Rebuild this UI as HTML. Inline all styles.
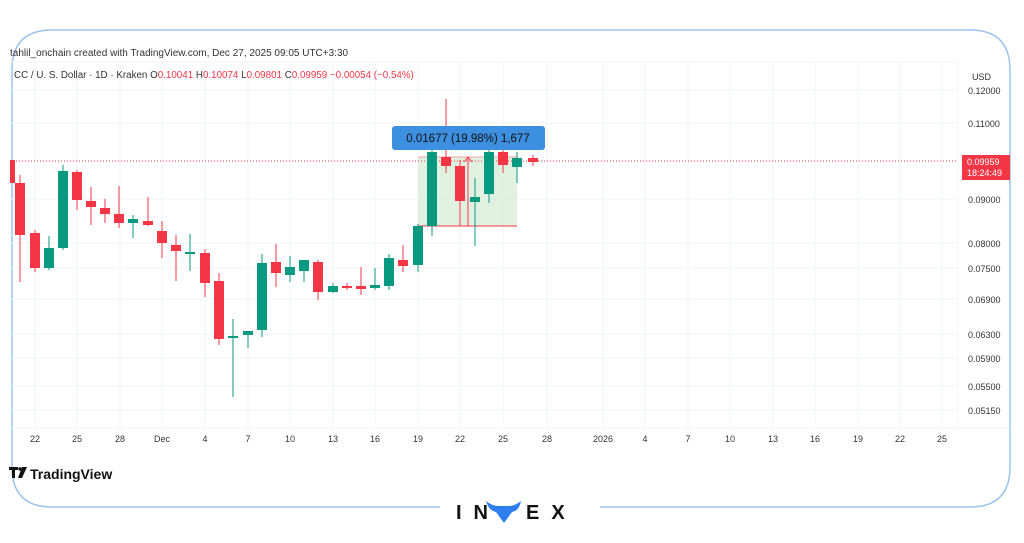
<!DOCTYPE html><html><head><style>
body{margin:0;background:#fff;width:1024px;height:538px;overflow:hidden;font-family:"Liberation Sans",sans-serif}
</style></head><body>
<svg width="1024" height="538" xmlns="http://www.w3.org/2000/svg" font-family="Liberation Sans, sans-serif">
<defs><clipPath id="cp"><rect x="10" y="62" width="948" height="366"/></clipPath></defs>
<rect width="1024" height="538" fill="#fff"/>
<path d="M440 507 H52 Q12 507 12 467 V70 Q12 30 52 30 H970 Q1010 30 1010 70 V467 Q1010 507 970 507 H600" fill="none" stroke="#9cc3f0" stroke-width="1.5"/>
<g stroke="#f2f3f5" stroke-width="1">
<line x1="10" y1="62" x2="958" y2="62"/>
<line x1="10" y1="428" x2="1010" y2="428"/>
<line x1="958" y1="62" x2="958" y2="428"/>
<line x1="10" y1="90" x2="958" y2="90"/><line x1="10" y1="123" x2="958" y2="123"/><line x1="10" y1="199" x2="958" y2="199"/><line x1="10" y1="243" x2="958" y2="243"/><line x1="10" y1="268" x2="958" y2="268"/><line x1="10" y1="299" x2="958" y2="299"/><line x1="10" y1="334" x2="958" y2="334"/><line x1="10" y1="358" x2="958" y2="358"/><line x1="10" y1="386" x2="958" y2="386"/><line x1="10" y1="410" x2="958" y2="410"/>
<line x1="35" y1="62" x2="35" y2="428"/><line x1="77" y1="62" x2="77" y2="428"/><line x1="120" y1="62" x2="120" y2="428"/><line x1="162" y1="62" x2="162" y2="428"/><line x1="205" y1="62" x2="205" y2="428"/><line x1="248" y1="62" x2="248" y2="428"/><line x1="290" y1="62" x2="290" y2="428"/><line x1="333" y1="62" x2="333" y2="428"/><line x1="375" y1="62" x2="375" y2="428"/><line x1="418" y1="62" x2="418" y2="428"/><line x1="460" y1="62" x2="460" y2="428"/><line x1="503" y1="62" x2="503" y2="428"/><line x1="547" y1="62" x2="547" y2="428"/><line x1="603" y1="62" x2="603" y2="428"/><line x1="645" y1="62" x2="645" y2="428"/><line x1="688" y1="62" x2="688" y2="428"/><line x1="730" y1="62" x2="730" y2="428"/><line x1="773" y1="62" x2="773" y2="428"/><line x1="815" y1="62" x2="815" y2="428"/><line x1="858" y1="62" x2="858" y2="428"/><line x1="900" y1="62" x2="900" y2="428"/><line x1="942" y1="62" x2="942" y2="428"/>
</g>
<text x="10" y="56" font-size="10" fill="#333">tahlil_onchain created with TradingView.com, Dec 27, 2025 09:05 UTC+3:30</text>
<text x="14" y="78" font-size="9.8" fill="#333">CC / U. S. Dollar · 1D · Kraken  O<tspan fill="#f23645">0.10041</tspan>  H<tspan fill="#f23645">0.10074</tspan>  L<tspan fill="#f23645">0.09801</tspan>  C<tspan fill="#f23645">0.09959  −0.00054 (−0.54%)</tspan></text>
<rect x="418" y="157" width="99" height="69" fill="#dcefdc" opacity="0.85"/>
<line x1="418" y1="157" x2="517" y2="157" stroke="#f2a0a0"/>
<line x1="418" y1="226" x2="517" y2="226" stroke="#f23645"/>
<line x1="468" y1="226" x2="468" y2="158" stroke="#f23645"/>
<path d="M464 162 L468 157 L472 162" fill="none" stroke="#f23645"/>
<line x1="10" y1="161" x2="958" y2="161" stroke="#f23645" stroke-dasharray="1,2" stroke-width="1"/>
<g id="c" clip-path="url(#cp)"></g>
<rect x="392" y="126" width="153" height="24" rx="3" fill="#3d8fe0"/>
<text x="468" y="142" font-size="11.5" fill="#111" text-anchor="middle">0.01677 (19.98%) 1,677</text>
<g font-size="9" fill="#333">
<text x="972" y="80">USD</text>
<text x="968" y="94">0.12000</text><text x="968" y="127">0.11000</text><text x="968" y="203">0.09000</text><text x="968" y="247">0.08000</text><text x="968" y="272">0.07500</text><text x="968" y="303">0.06900</text><text x="968" y="338">0.06300</text><text x="968" y="362">0.05900</text><text x="968" y="390">0.05500</text><text x="968" y="414">0.05150</text>
</g>
<rect x="962" y="155" width="48" height="25" fill="#f23645"/>
<text x="967" y="165" font-size="9" fill="#fff">0.09959</text>
<text x="967" y="176" font-size="9" fill="#fff">18:24:49</text>
<g font-size="9" fill="#333" text-anchor="middle">
<text x="35" y="442">22</text><text x="77" y="442">25</text><text x="120" y="442">28</text><text x="162" y="442">Dec</text><text x="205" y="442">4</text><text x="248" y="442">7</text><text x="290" y="442">10</text><text x="333" y="442">13</text><text x="375" y="442">16</text><text x="418" y="442">19</text><text x="460" y="442">22</text><text x="503" y="442">25</text><text x="547" y="442">28</text><text x="603" y="442">2026</text><text x="645" y="442">4</text><text x="688" y="442">7</text><text x="730" y="442">10</text><text x="773" y="442">13</text><text x="815" y="442">16</text><text x="858" y="442">19</text><text x="900" y="442">22</text><text x="942" y="442">25</text>
</g>
<rect x="9" y="467" width="9" height="3" fill="#111"/><rect x="12" y="467" width="3" height="11" fill="#111"/><circle cx="20" cy="469" r="1.7" fill="#111"/><path d="M22 467 H27 L22 478 H18 Z" fill="#111"/>
<text x="30" y="479" font-size="14" font-weight="bold" fill="#111">TradingView</text>
<text x="456" y="519" font-size="20" font-weight="bold" fill="#111" letter-spacing="12">IN</text>
<path d="M486 501 Q492 506 499 506 L508 506 Q515 506 521 501 Q519 511 512 512 L504 523 L496 512 Q489 511 486 501 Z" fill="#2e7ef0"/>
<text x="526" y="519" font-size="20" font-weight="bold" fill="#111" letter-spacing="12">EX</text>
</svg>
<script>
var d=[[10,'r',160,183,160,183],[20,'r',183,235,175,282],[35,'r',233,268,230,272],[49,'g',248,268,236,270],[63,'g',171,248,165,250],[77,'r',172,200,170,210],[91,'r',201,207,187,225],[105,'r',208,214,199,223],[119,'r',214,223,186,228],[133,'g',219,223,215,238],[148,'r',221,225,197,226],[162,'r',231,243,221,258],[176,'r',245,251,235,281],[190,'g',252,254,234,271],[205,'r',253,283,249,297],[219,'r',281,339,273,345],[233,'g',336,338,319,397],[248,'g',331,335,331,348],[262,'g',263,330,254,337],[276,'r',262,273,244,287],[290,'g',267,275,256,282],[304,'g',260,271,260,282],[318,'r',262,292,260,300],[333,'g',286,292,283,293],[347,'r',286,287,283,290],[361,'r',286,289,267,295],[375,'g',285,288,268,290],[389,'g',258,286,254,290],[403,'r',260,266,245,272],[418,'g',226,265,224,272],[432,'g',152,226,145,236],[446,'r',157,166,99,173],[460,'r',166,201,160,226],[475,'g',197,202,178,246],[489,'g',152,194,145,203],[503,'r',152,165,145,173],[517,'g',158,167,152,183],[533,'r',158,162,155,166]];
var s='';d.forEach(function(c){var col=c[1]=='g'?'#089981':'#f23645';
s+='<line x1="'+c[0]+'" y1="'+c[4]+'" x2="'+c[0]+'" y2="'+c[5]+'" stroke="'+col+'" stroke-width="1"/>';
s+='<rect x="'+(c[0]-5)+'" y="'+c[2]+'" width="10" height="'+Math.max(2,c[3]-c[2])+'" fill="'+col+'"/>';});
document.getElementById('c').innerHTML=s;
</script>
</body></html>
